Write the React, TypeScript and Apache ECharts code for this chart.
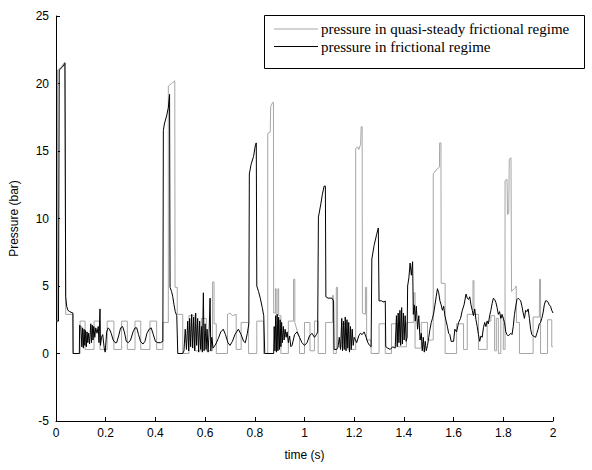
import React, { useEffect, useRef } from "react";
import * as echarts from "echarts";

// time (s), pressure (bar)
const quasiSteady: [number, number][] = [
  [0, 2.4], [0.006, 2.4], [0.006, 21.0], [0.02, 21.2], [0.036, 21.6], [0.039, 2.9], [0.068, 2.9], [0.068, 0],
  [0.097, 0], [0.097, 2.4], [0.117, 2.4], [0.117, 0.3], [0.153, 0.3], [0.153, 2.4], [0.177, 2.4], [0.177, 0.3],
  [0.206, 0.3], [0.206, 2.4], [0.233, 2.4], [0.233, 0.3], [0.264, 0.3], [0.264, 2.4], [0.287, 2.4], [0.287, 0.3],
  [0.318, 0.3], [0.318, 2.4], [0.341, 2.4], [0.341, 0.3], [0.378, 0.3], [0.378, 2.4], [0.405, 2.4], [0.405, 0.3],
  [0.43, 0.3], [0.43, 2.3], [0.452, 2.3], [0.452, 19.8], [0.465, 20.0], [0.478, 20.2], [0.479, 4.9], [0.488, 4.9],
  [0.488, 2.9], [0.51, 2.9], [0.51, 0], [0.535, 0], [0.535, 2.8], [0.56, 2.8], [0.56, 0.2], [0.585, 0.2],
  [0.585, 2.6], [0.605, 2.6], [0.605, 0.2], [0.63, 0.2], [0.63, 5.3], [0.636, 5.3], [0.636, 2.2], [0.645, 2.2],
  [0.645, 0], [0.69, 0], [0.69, 2.9], [0.7, 3.0], [0.71, 2.8], [0.725, 2.9], [0.725, 0.3], [0.745, 0.3],
  [0.745, 2.3], [0.775, 2.3], [0.775, 0], [0.808, 0], [0.808, 2.4], [0.835, 2.4], [0.835, 0], [0.852, 0],
  [0.852, 16.3], [0.862, 16.4], [0.864, 18.3], [0.872, 18.6], [0.875, 18.6], [0.876, 3.0], [0.883, 3.0], [0.883, 4.8],
  [0.886, 4.8], [0.886, 2.9], [0.893, 2.9], [0.893, 4.8], [0.896, 4.8], [0.896, 2.8], [0.905, 2.8], [0.905, 0],
  [0.935, 0], [0.935, 2.4], [0.956, 2.4], [0.956, 5.5], [0.961, 5.5], [0.961, 2.3], [0.975, 1.4], [0.98, 1.2],
  [0.98, 0], [1.0, 0], [1.0, 2.3], [1.022, 2.3], [1.022, 0.2], [1.04, 0.2], [1.04, 2.4], [1.055, 2.4],
  [1.055, 0], [1.085, 0], [1.085, 2.3], [1.113, 2.3], [1.113, 4.3], [1.116, 4.3], [1.116, 0], [1.128, 0],
  [1.128, 4.9], [1.133, 4.9], [1.133, 0.5], [1.15, 0.5], [1.15, 2.2], [1.175, 2.2], [1.175, 0.3], [1.206, 0.3],
  [1.206, 15.2], [1.215, 15.3], [1.218, 15.1], [1.226, 15.5], [1.228, 16.8], [1.232, 16.8], [1.233, 3.0], [1.245, 2.9],
  [1.245, 4.9], [1.25, 4.9], [1.25, 1.0], [1.268, 1.0], [1.268, 0], [1.3, 0], [1.3, 2.2], [1.325, 2.2],
  [1.325, 0], [1.35, 0], [1.35, 2.2], [1.375, 2.2], [1.375, 0.5], [1.41, 0.5], [1.41, 2.3], [1.44, 2.3],
  [1.44, 4.5], [1.445, 4.5], [1.445, 0.4], [1.47, 0.4], [1.47, 2.3], [1.495, 2.3], [1.495, 1.0], [1.518, 1.0],
  [1.518, 13.3], [1.53, 13.6], [1.543, 13.8], [1.544, 15.6], [1.549, 15.6], [1.55, 5.2], [1.566, 5.2], [1.566, 0],
  [1.612, 0], [1.612, 2.2], [1.64, 2.2], [1.64, 0.3], [1.655, 0.3], [1.655, 2.9], [1.678, 2.9], [1.678, 5.4],
  [1.682, 5.4], [1.682, 2.9], [1.7, 2.9], [1.7, 0.3], [1.735, 0.3], [1.735, 2.4], [1.75, 2.4], [1.75, 2.8],
  [1.765, 2.8], [1.765, 0.2], [1.772, 0.2], [1.772, 2.6], [1.78, 2.6], [1.78, 0], [1.79, 0], [1.79, 2.7],
  [1.8, 2.7], [1.8, 0.3], [1.807, 0.3], [1.807, 12.8], [1.815, 12.9], [1.817, 10.3], [1.822, 10.4], [1.824, 14.4],
  [1.831, 14.5], [1.833, 4.6], [1.845, 4.8], [1.852, 5.0], [1.853, 2.3], [1.865, 2.3], [1.865, 0], [1.92, 0],
  [1.92, 2.7], [1.945, 2.7], [1.946, 5.5], [1.95, 5.5], [1.95, 0], [1.978, 0], [1.978, 2.5], [1.995, 2.5],
  [1.995, 0.5], [2.0, 0.5],
];

const frictional: [number, number][] = [
  [0, 2.4], [0.01, 2.4], [0.013, 21.0], [0.025, 21.2], [0.036, 21.5], [0.039, 4.2], [0.043, 3.5], [0.048, 3.2],
  [0.055, 3.1], [0.068, 3.0], [0.069, 0], [0.094, 0], [0.095, 2.1], [0.1, 2.0], [0.104, 0.5], [0.107, 1.9],
  [0.11, 0.4], [0.113, 1.8], [0.116, 0.6], [0.119, 1.7], [0.122, 0.5], [0.125, 1.6], [0.128, 0.8], [0.131, 1.5],
  [0.135, 0.7], [0.14, 2.2], [0.143, 0.8], [0.146, 2.1], [0.149, 1.0], [0.152, 2.0], [0.156, 1.2], [0.16, 1.9],
  [0.165, 1.5], [0.17, 2.0], [0.173, 0.8], [0.177, 3.3], [0.179, 0.6], [0.183, 1.2], [0.188, 1.4], [0.194, 0.4],
  [0.198, 0.1], [0.204, 1.6], [0.21, 1.9], [0.215, 1.8], [0.222, 1.5], [0.23, 1.0], [0.238, 0.8], [0.244, 0.8],
  [0.252, 1.3], [0.26, 1.9], [0.268, 2.0], [0.275, 1.6], [0.283, 0.9], [0.291, 0.8], [0.3, 1.0], [0.31, 1.6],
  [0.318, 1.9], [0.325, 1.9], [0.332, 1.4], [0.34, 0.9], [0.35, 0.7], [0.358, 0.9], [0.366, 1.5], [0.375, 1.8],
  [0.383, 1.9], [0.39, 1.5], [0.4, 0.9], [0.41, 0.8], [0.42, 0.8], [0.43, 0.9], [0.432, 16.5], [0.436, 17.0],
  [0.445, 17.6], [0.452, 18.2], [0.457, 19.2], [0.459, 4.9], [0.465, 4.6], [0.47, 4.2], [0.475, 3.6], [0.48, 3.1],
  [0.486, 2.8], [0.49, 0], [0.51, 0], [0.515, 0.2], [0.52, 1.8], [0.525, 0.3], [0.53, 2.4], [0.534, 0.2],
  [0.538, 2.6], [0.542, 0.5], [0.546, 2.9], [0.55, 0.4], [0.554, 2.7], [0.558, 0.2], [0.562, 3.0], [0.566, 0.6],
  [0.57, 2.6], [0.574, 0.1], [0.578, 2.4], [0.582, 0.3], [0.586, 2.0], [0.589, 0.1], [0.593, 4.5], [0.596, 0.2],
  [0.6, 2.2], [0.604, 0.3], [0.608, 1.8], [0.612, 0.1], [0.616, 1.5], [0.62, 4.1], [0.623, 0.2], [0.627, 1.2],
  [0.632, 0.4], [0.643, 0.7], [0.653, 1.1], [0.663, 1.6], [0.673, 1.8], [0.682, 1.4], [0.692, 0.8], [0.7, 0.6],
  [0.71, 0.9], [0.72, 1.4], [0.734, 1.8], [0.745, 1.4], [0.755, 0.9], [0.762, 0.8], [0.77, 1.5], [0.776, 2.2],
  [0.778, 13.3], [0.785, 14.0], [0.795, 14.6], [0.803, 15.5], [0.806, 15.6], [0.808, 5.0], [0.815, 4.6], [0.822, 4.1],
  [0.83, 3.4], [0.836, 2.8], [0.84, 0], [0.876, 0], [0.878, 2.0], [0.881, 0.2], [0.884, 2.8], [0.887, 0.1],
  [0.89, 2.9], [0.893, 0.2], [0.896, 2.7], [0.899, 0.3], [0.902, 2.5], [0.905, 0.5], [0.908, 2.3], [0.911, 0.8],
  [0.915, 2.0], [0.918, 1.0], [0.922, 1.8], [0.926, 1.2], [0.93, 1.6], [0.935, 0.8], [0.94, 1.3], [0.945, 0.5],
  [0.95, 0.6], [0.955, 1.0], [0.96, 1.4], [0.97, 1.6], [0.98, 1.2], [0.99, 0.8], [1.0, 0.6], [1.01, 0.8],
  [1.02, 1.3], [1.03, 1.5], [1.04, 1.2], [1.048, 1.4], [1.053, 1.6], [1.056, 10.1], [1.065, 11.0], [1.072, 11.8],
  [1.079, 12.4], [1.084, 12.4], [1.086, 4.2], [1.095, 4.1], [1.11, 4.1], [1.117, 3.9], [1.119, 0.3], [1.13, 0.3],
  [1.135, 0.5], [1.14, 1.2], [1.145, 0.3], [1.15, 2.6], [1.153, 0.2], [1.157, 2.4], [1.16, 0.3], [1.164, 2.7],
  [1.167, 0.2], [1.171, 2.5], [1.174, 0.4], [1.178, 2.3], [1.181, 0.1], [1.185, 2.0], [1.188, 0.3], [1.192, 1.8],
  [1.196, 0.6], [1.2, 1.2], [1.21, 0.8], [1.218, 1.3], [1.225, 1.5], [1.232, 1.4], [1.24, 1.6], [1.248, 1.2],
  [1.255, 0.8], [1.262, 0.6], [1.268, 0.5], [1.271, 7.0], [1.28, 8.0], [1.29, 8.8], [1.297, 9.3], [1.3, 3.9],
  [1.31, 3.9], [1.32, 3.8], [1.325, 3.9], [1.327, 0.5], [1.335, 0.4], [1.345, 0.3], [1.355, 0.5], [1.365, 0.4],
  [1.37, 2.8], [1.373, 0.5], [1.377, 3.0], [1.38, 0.8], [1.384, 3.2], [1.387, 0.6], [1.391, 3.4], [1.394, 0.7],
  [1.398, 3.0], [1.401, 1.0], [1.405, 2.8], [1.409, 0.9], [1.413, 1.2], [1.415, 5.0], [1.42, 5.6], [1.425, 6.7],
  [1.43, 5.8], [1.435, 6.8], [1.438, 2.9], [1.442, 3.6], [1.446, 2.4], [1.45, 3.5], [1.455, 1.8], [1.46, 2.8],
  [1.465, 1.0], [1.47, 1.5], [1.474, 0.2], [1.478, 1.2], [1.482, 0.1], [1.486, 0.9], [1.49, 0.2], [1.495, 0.6],
  [1.5, 1.2], [1.505, 1.8], [1.51, 2.3], [1.515, 2.6], [1.52, 3.0], [1.525, 3.6], [1.53, 4.2], [1.535, 4.8],
  [1.54, 4.5], [1.545, 3.9], [1.55, 3.6], [1.555, 3.2], [1.56, 3.5], [1.565, 2.8], [1.57, 2.4], [1.575, 2.0],
  [1.58, 1.5], [1.585, 1.4], [1.59, 0.9], [1.6, 0.9], [1.605, 1.8], [1.612, 1.6], [1.62, 2.3], [1.628, 2.6],
  [1.635, 3.2], [1.642, 3.6], [1.65, 4.4], [1.655, 4.1], [1.66, 4.0], [1.665, 4.2], [1.67, 3.6], [1.675, 3.2],
  [1.68, 2.8], [1.685, 3.3], [1.69, 2.5], [1.695, 2.0], [1.7, 1.4], [1.705, 0.9], [1.71, 1.3], [1.715, 1.2],
  [1.72, 1.9], [1.725, 2.3], [1.73, 2.0], [1.735, 2.4], [1.74, 2.2], [1.745, 2.8], [1.75, 3.2], [1.755, 3.7],
  [1.76, 4.1], [1.765, 4.0], [1.77, 3.8], [1.775, 3.4], [1.78, 2.9], [1.785, 3.1], [1.79, 2.6], [1.795, 2.9],
  [1.8, 2.6], [1.805, 2.3], [1.81, 1.6], [1.815, 1.4], [1.82, 1.3], [1.83, 1.5], [1.835, 1.4], [1.84, 2.0],
  [1.845, 2.9], [1.85, 3.5], [1.855, 4.0], [1.86, 4.1], [1.865, 4.0], [1.87, 3.9], [1.875, 3.5], [1.88, 3.0],
  [1.885, 2.6], [1.89, 3.2], [1.895, 3.1], [1.9, 3.3], [1.905, 2.6], [1.91, 1.8], [1.915, 1.4], [1.92, 1.3],
  [1.93, 1.2], [1.935, 1.5], [1.94, 1.8], [1.945, 2.2], [1.95, 2.3], [1.955, 2.6], [1.96, 3.0], [1.965, 3.6],
  [1.97, 3.9], [1.975, 3.9], [1.98, 3.8], [1.985, 3.6], [1.99, 3.5], [1.995, 3.2], [2.0, 3.0],
];

const seriesNames = ["pressure in quasi-steady frictional regime", "pressure in frictional regime"];
const seriesColors = ["#a6a6a6", "#000000"];
const xLabel = "time (s)";
const yLabel = "Pressure (bar)";

export default function App() {
  const ref = useRef<HTMLDivElement>(null);
  useEffect(() => {
    document.body.style.margin = "0";
    const chart = echarts.init(ref.current!, null, { renderer: "svg" });
    const sans = "Liberation Sans, Arial, sans-serif";
    const serif = "Liberation Serif, Times New Roman, serif";
    chart.setOption({
      animation: false,
      backgroundColor: "#ffffff",
      grid: { left: 56, right: 39, top: 16, bottom: 49, containLabel: false },
      xAxis: {
        type: "value",
        min: 0,
        max: 2,
        interval: 0.2,
        name: xLabel,
        nameLocation: "middle",
        nameGap: 28,
        nameTextStyle: { color: "#000", fontFamily: sans, fontSize: 12 },
        axisLine: { show: true, onZero: false, lineStyle: { color: "#000", width: 1 } },
        axisTick: { show: true, inside: true, length: 4, lineStyle: { color: "#000" } },
        axisLabel: { color: "#000", fontFamily: sans, fontSize: 12, margin: 6 },
        splitLine: { show: false },
      },
      yAxis: {
        type: "value",
        min: -5,
        max: 25,
        interval: 5,
        name: yLabel,
        nameLocation: "middle",
        nameGap: 36,
        nameRotate: 90,
        nameTextStyle: { color: "#000", fontFamily: sans, fontSize: 12 },
        axisLine: { show: true, onZero: false, lineStyle: { color: "#000", width: 1 } },
        axisTick: { show: true, inside: true, length: 4, lineStyle: { color: "#000" } },
        axisLabel: { color: "#000", fontFamily: sans, fontSize: 12, margin: 7 },
        splitLine: { show: false },
      },
      series: [
        {
          name: seriesNames[0],
          type: "line",
          data: quasiSteady,
          showSymbol: false,
          lineStyle: { color: seriesColors[0], width: 1 },
          z: 2,
        },
        {
          name: seriesNames[1],
          type: "line",
          data: frictional,
          showSymbol: false,
          lineStyle: { color: seriesColors[1], width: 1 },
          z: 3,
        },
      ],
      graphic: [
        {
          type: "rect",
          shape: { x: 264.5, y: 15.5, width: 320, height: 53 },
          style: { fill: "#fff", stroke: "#000", lineWidth: 1 },
          z: 100,
        },
        {
          type: "line",
          shape: { x1: 274, y1: 29, x2: 318, y2: 29 },
          style: { stroke: seriesColors[0], lineWidth: 1 },
          z: 101,
        },
        {
          type: "line",
          shape: { x1: 274, y1: 46.5, x2: 318, y2: 46.5 },
          style: { stroke: seriesColors[1], lineWidth: 1 },
          z: 101,
        },
        {
          type: "text",
          x: 321,
          y: 29,
          style: { text: seriesNames[0], fill: "#000", font: `15px ${serif}`, verticalAlign: "middle", align: "left" },
          z: 101,
        },
        {
          type: "text",
          x: 321,
          y: 46.5,
          style: { text: seriesNames[1], fill: "#000", font: `15px ${serif}`, verticalAlign: "middle", align: "left" },
          z: 101,
        },
      ],
    });
    return () => chart.dispose();
  }, []);
  return <div ref={ref} style={{ width: 592, height: 470 }} />;
}
